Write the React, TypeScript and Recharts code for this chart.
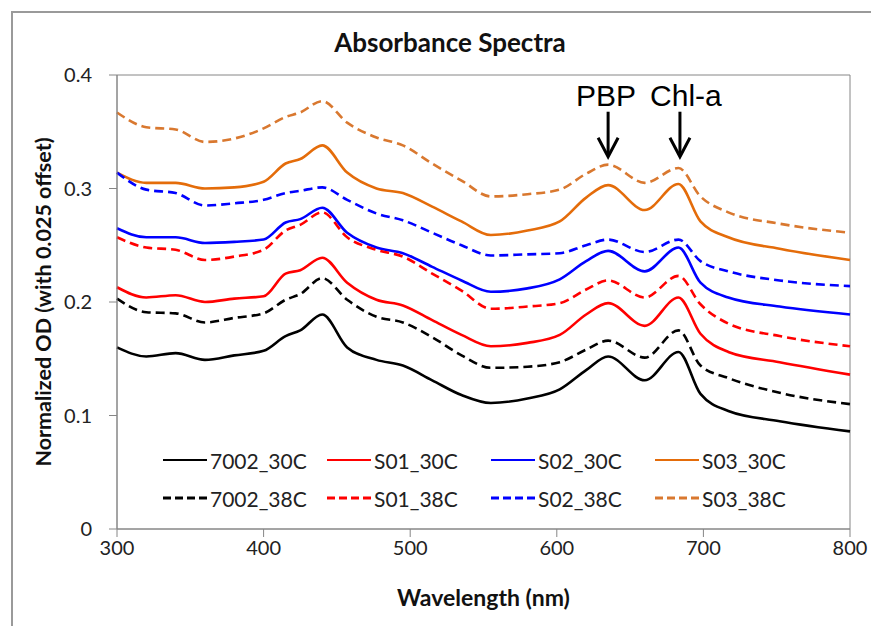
import React from 'react';
import { LineChart, Line, XAxis, YAxis, ReferenceArea, ReferenceDot } from 'recharts';

// wavelength (nm) sample points
const wavelengths = [300, 320, 340, 360, 380, 400, 415, 425, 440, 457, 477, 495, 515, 535, 555, 580, 602, 620, 635, 660, 683, 698, 717, 752, 800];

// normalized OD, already offset by 0.025 steps as in the figure
const od7002_30 = [0.160, 0.152, 0.155, 0.149, 0.153, 0.157, 0.170, 0.175, 0.189, 0.160, 0.149, 0.144, 0.131, 0.118, 0.111, 0.115, 0.123, 0.140, 0.152, 0.131, 0.156, 0.119, 0.104, 0.095, 0.086];
const od7002_38 = [0.203, 0.191, 0.190, 0.182, 0.186, 0.190, 0.202, 0.207, 0.221, 0.202, 0.187, 0.182, 0.169, 0.153, 0.142, 0.143, 0.147, 0.158, 0.166, 0.151, 0.175, 0.144, 0.133, 0.120, 0.110];
const odS01_30 = [0.213, 0.204, 0.206, 0.200, 0.203, 0.205, 0.225, 0.228, 0.239, 0.217, 0.202, 0.197, 0.184, 0.171, 0.161, 0.164, 0.171, 0.189, 0.199, 0.179, 0.204, 0.172, 0.156, 0.147, 0.136];
const odS01_38 = [0.257, 0.248, 0.246, 0.237, 0.240, 0.246, 0.263, 0.268, 0.279, 0.257, 0.246, 0.240, 0.225, 0.210, 0.194, 0.196, 0.199, 0.211, 0.219, 0.204, 0.223, 0.198, 0.181, 0.170, 0.161];
const odS02_30 = [0.265, 0.257, 0.257, 0.252, 0.253, 0.255, 0.270, 0.273, 0.283, 0.261, 0.248, 0.243, 0.231, 0.219, 0.209, 0.212, 0.220, 0.236, 0.245, 0.227, 0.248, 0.217, 0.204, 0.196, 0.189];
const odS02_38 = [0.314, 0.299, 0.296, 0.285, 0.287, 0.290, 0.296, 0.298, 0.301, 0.290, 0.278, 0.272, 0.261, 0.250, 0.241, 0.242, 0.243, 0.250, 0.255, 0.244, 0.255, 0.236, 0.227, 0.219, 0.214];
const odS03_30 = [0.314, 0.305, 0.305, 0.300, 0.301, 0.306, 0.322, 0.326, 0.338, 0.314, 0.300, 0.296, 0.284, 0.271, 0.259, 0.263, 0.271, 0.292, 0.303, 0.281, 0.304, 0.271, 0.257, 0.247, 0.237];
const odS03_38 = [0.367, 0.354, 0.352, 0.341, 0.344, 0.353, 0.363, 0.367, 0.377, 0.358, 0.345, 0.338, 0.322, 0.307, 0.293, 0.295, 0.299, 0.313, 0.321, 0.305, 0.318, 0.293, 0.279, 0.269, 0.261];

const xTicks = [300, 400, 500, 600, 700, 800];
const yTicks = [0, 0.1, 0.2, 0.3, 0.4];

// legend order: first row 30C, second row 38C
const series = [
  { key: '7002_30C', values: od7002_30, color: '#000000', dashed: false },
  { key: 'S01_30C', values: odS01_30, color: '#ff0000', dashed: false },
  { key: 'S02_30C', values: odS02_30, color: '#0000ff', dashed: false },
  { key: 'S03_30C', values: odS03_30, color: '#e46c0a', dashed: false },
  { key: '7002_38C', values: od7002_38, color: '#000000', dashed: true },
  { key: 'S01_38C', values: odS01_38, color: '#ff0000', dashed: true },
  { key: 'S02_38C', values: odS02_38, color: '#0000ff', dashed: true },
  { key: 'S03_38C', values: odS03_38, color: '#d9782f', dashed: true },
];

const peaks = [
  { label: 'PBP', wavelength: 635, textShift: -2 },
  { label: 'Chl-a', wavelength: 684, textShift: 6 },
];
const arrowTipOD = 0.328;

const data = wavelengths.map((w, i) => {
  const row: Record<string, number> = { wavelength: w };
  series.forEach(s => { row[s.key] = s.values[i]; });
  return row;
});

const font = 'Lato, "Open Sans", sans-serif';
const axisGray = '#868686';

const PeakArrow = (label: string, textShift: number) => (props: any) => {
  const { cx, cy } = props;
  return (
    <g>
      <line x1={cx} y1={cy - 45} x2={cx} y2={cy - 2} stroke="#000" strokeWidth={3} />
      <polyline points={`${cx - 10},${cy - 19} ${cx},${cy} ${cx + 10},${cy - 19}`} fill="none" stroke="#000" strokeWidth={3} />
      <text x={cx + textShift} y={cy - 51} textAnchor="middle" fontFamily='"Liberation Sans", Arial, sans-serif' fontSize={30} fill="#000">
        {label}
      </text>
    </g>
  );
};

function ChartLegend() {
  return (
    <div style={{ position: 'absolute', left: 163, top: 447, display: 'grid', gridTemplateColumns: 'repeat(4, 164px)', rowGap: 12, fontFamily: font, fontSize: 21, color: '#222' }}>
      {series.map(s => (
        <div key={s.key} style={{ display: 'flex', alignItems: 'center', height: 26 }}>
          <svg width={46} height={10} style={{ marginRight: 1 }}>
            <line x1={0} y1={5} x2={44} y2={5} stroke={s.color} strokeWidth={s.dashed ? 3 : 2} strokeDasharray={s.dashed ? '8 4' : undefined} />
          </svg>
          <span>{s.key}</span>
        </div>
      ))}
    </div>
  );
}

export default function App() {
  return (
    <div style={{ position: 'absolute', left: 0, top: 0, width: 871, height: 626, background: '#fff', overflow: 'hidden' }}>
      <div style={{ position: 'absolute', left: 11, top: 11, width: 870, height: 630, borderTop: '2px solid #9a9a9a', borderLeft: '2px solid #9a9a9a' }} />
      <div style={{ position: 'absolute', left: 250, top: 28, width: 400, textAlign: 'center', fontFamily: font, fontWeight: 700, fontSize: 26, lineHeight: '28px', color: '#111' }}>
        Absorbance Spectra
      </div>
      <LineChart width={871} height={626} data={data} margin={{ top: 75, right: 21, bottom: 0, left: 0 }} style={{ position: 'absolute', left: 0, top: 0 }}>
        <XAxis
          dataKey="wavelength"
          type="number"
          domain={[300, 800]}
          ticks={xTicks}
          height={97}
          stroke={axisGray}
          tickSize={8}
          tickMargin={4}
          tick={{ fill: '#222', fontFamily: font, fontSize: 20 }}
          label={{ value: 'Wavelength (nm)', position: 'insideBottom', offset: 20, style: { fontFamily: font, fontWeight: 700, fontSize: 23, fill: '#111' } }}
        />
        <YAxis
          type="number"
          domain={[0, 0.4]}
          ticks={yTicks}
          width={117}
          stroke={axisGray}
          tickSize={8}
          tickMargin={17}
          tickFormatter={(v: number) => (v === 0 ? '0' : v.toFixed(1))}
          tick={{ fill: '#222', fontFamily: font, fontSize: 20 }}
          label={{ value: 'Normalized OD (with 0.025 offset)', angle: -90, position: 'insideLeft', offset: 43, style: { textAnchor: 'middle', fontFamily: font, fontWeight: 700, fontSize: 21.5, fill: '#111' } }}
        />
        <ReferenceArea x1={300} x2={800} y1={0} y2={0.4} fill="none" stroke={axisGray} strokeWidth={1} />
        {series.map(s => (
          <Line
            key={s.key}
            dataKey={s.key}
            type="monotone"
            stroke={s.color}
            strokeWidth={2.6}
            strokeDasharray={s.dashed ? '9 5' : undefined}
            dot={false}
            activeDot={false}
            isAnimationActive={false}
          />
        ))}
        {peaks.map(p => (
          <ReferenceDot key={p.label} x={p.wavelength} y={arrowTipOD} r={0} shape={PeakArrow(p.label, p.textShift)} />
        ))}
      </LineChart>
      <ChartLegend />
    </div>
  );
}
